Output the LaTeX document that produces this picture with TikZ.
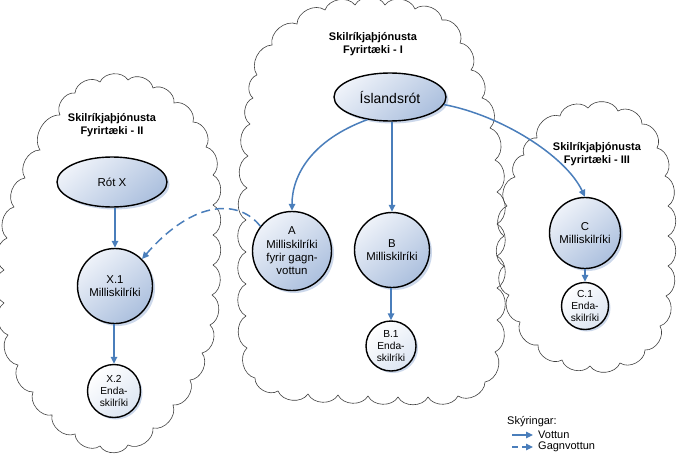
\documentclass[tikz,border=0pt]{standalone}
\usepackage{fontspec}
\setmainfont{Liberation Sans}
\usetikzlibrary{shapes.geometric,arrows.meta,shadows}
\definecolor{arrblue}{RGB}{74,126,187}
\definecolor{nlight}{RGB}{238,242,249}
\definecolor{ndark}{RGB}{172,192,222}
\definecolor{slight}{RGB}{255,255,255}
\definecolor{sdark}{RGB}{220,229,242}
\definecolor{shadowc}{RGB}{204,216,235}
\begin{document}
\begin{tikzpicture}[x=1pt,y=-1pt,
  cloudline/.style={draw=black!75, line width=0.6pt},
  title/.style={font=\fontsize{11}{13}\selectfont\bfseries, align=center},
  bigcirc/.style={circle, draw=black, line width=1.4pt, inner sep=0pt,
     top color=nlight, bottom color=ndark, shading angle=40,
     drop shadow={shadow xshift=2.5pt, shadow yshift=-2.5pt, fill=shadowc, opacity=1},
     align=center, font=\fontsize{11.4}{13.4}\selectfont},
  bigell/.style={ellipse, draw=black, line width=1.4pt, inner sep=0pt,
     top color=nlight, bottom color=ndark, shading angle=40,
     drop shadow={shadow xshift=2.5pt, shadow yshift=-2.5pt, fill=shadowc, opacity=1}},
  smallcirc/.style={circle, draw=black, line width=1.4pt, inner sep=0pt,
     top color=slight, bottom color=sdark, shading angle=40,
     drop shadow={shadow xshift=2pt, shadow yshift=-2pt, fill=shadowc, opacity=1},
     align=center, font=\fontsize{10.2}{11.8}\selectfont},
  vott/.style={draw=arrblue, line width=1.5pt, -{Triangle[length=7pt,width=6.5pt]}},
  gagn/.style={vott, dash pattern=on 9pt off 5pt},
  legtext/.style={anchor=west, font=\fontsize{11}{12}\selectfont, inner sep=0pt}
]
\useasboundingbox (0,0) rectangle (680,455);

% clouds
\draw[cloudline] (60,115) \foreach \x/\y in {75/93,100/82,128/80,153/88,174/103,193/122,206/147,213/175,213/205,213/235,213/265,212/295,210/325,202/353,190/380,173/405,153/428,128/445,100/446,75/434,52/415,33/392,18/365,8/335,4/303,4/270,7/238,14/207,25/178,40/150,60/115} { to[bend left=62] (\x,\y) };

\draw[cloudline] (257,75) \foreach \x/\y in {272/45,297/24,325/10,355/5,385/5,415/9,442/20,460/43,471/70,482/98,490/128,495/160,497/192,497/224,497/256,497/288,497/320,495/352,485/382,458/396,428/397,398/397,368/396,338/395,308/394,278/391,255/378,247/348,246/316,246/284,246/252,246/220,247/188,248/156,250/124,253/98,257/75} { to[bend left=62] (\x,\y) };

\draw[cloudline] (537,138) \foreach \x/\y in {560/116,588/108,618/111,642/124,657/148,665/176,668/206,668/236,668/266,666/296,660/326,645/350,620/363,590/366,562/360,538/345,520/322,509/295,504/266,504/236,507/206,515/177,524/155,537/138} { to[bend left=62] (\x,\y) };

% titles
\node[title] (t1) at (373,44) {Skilríkjaþjónusta\\Fyrirtæki - I};
\node[title] (t2) at (112,125) {Skilríkjaþjónusta\\Fyrirtæki - II};
\node[title] (t3) at (597,154) {Skilríkjaþjónusta\\Fyrirtæki - III};

% nodes
\node[bigell, minimum width=112pt, minimum height=48pt, font=\fontsize{14}{16}\selectfont] (isl) at (390,97) {Íslandsrót};
\node[bigell, minimum width=110pt, minimum height=50pt, font=\fontsize{11.5}{13}\selectfont] (rotx) at (112,182) {Rót X};
\node[bigcirc, minimum size=79pt] (A) at (292,251) {A\\Milliskilríki\\fyrir gagn-\\vottun};
\node[bigcirc, minimum size=75pt] (B) at (392,250) {B\\Milliskilríki};
\node[bigcirc, minimum size=71pt] (C) at (585,233) {C\\Milliskilríki};
\node[bigcirc, minimum size=75pt] (X1) at (115,286) {X.1\\Milliskilríki};
\node[smallcirc, minimum size=50pt] (B1) at (391,346) {B.1\\Enda-\\skilríki};
\node[smallcirc, minimum size=47pt] (C1) at (585,306) {C.1\\Enda-\\skilríki};
\node[smallcirc, minimum size=53pt] (X2) at (114,391) {X.2\\Enda-\\skilríki};

% connectors
\draw[vott] (isl.225) .. controls (312,140) and (292,175) .. (A.north);
\draw[vott] (isl.south -| B.north) -- (B.north);
\draw[vott] (isl.352) .. controls (500,115) and (565,155) .. (C.north);
\draw[vott] (rotx.south -| X1.north) -- (X1.north);
\draw[vott] (X1.south -| X2.north) -- (X2.north);
\draw[vott] (B.south -| B1.north) -- (B1.north);
\draw[vott] (C.south -| C1.north) -- (C1.north);
\draw[gagn] (A.142) .. controls (240,200) and (195,198) .. (X1.45);

% legend
\node[legtext] (leg) at (507,422) {Skýringar:};
\coordinate (v1) at (512,435);
\coordinate (v2) at (533,435);
\coordinate (g1) at (512,447);
\coordinate (g2) at (533,447);
\draw[vott, line width=1.2pt] (v1) -- (v2);
\draw[gagn, line width=1.2pt, dash pattern=on 6pt off 4pt] (g1) -- (g2);
\node[legtext] (lv) at (538,435) {Vottun};
\node[legtext] (lg) at (538,447) {Gagnvottun};
\end{tikzpicture}
\end{document}
